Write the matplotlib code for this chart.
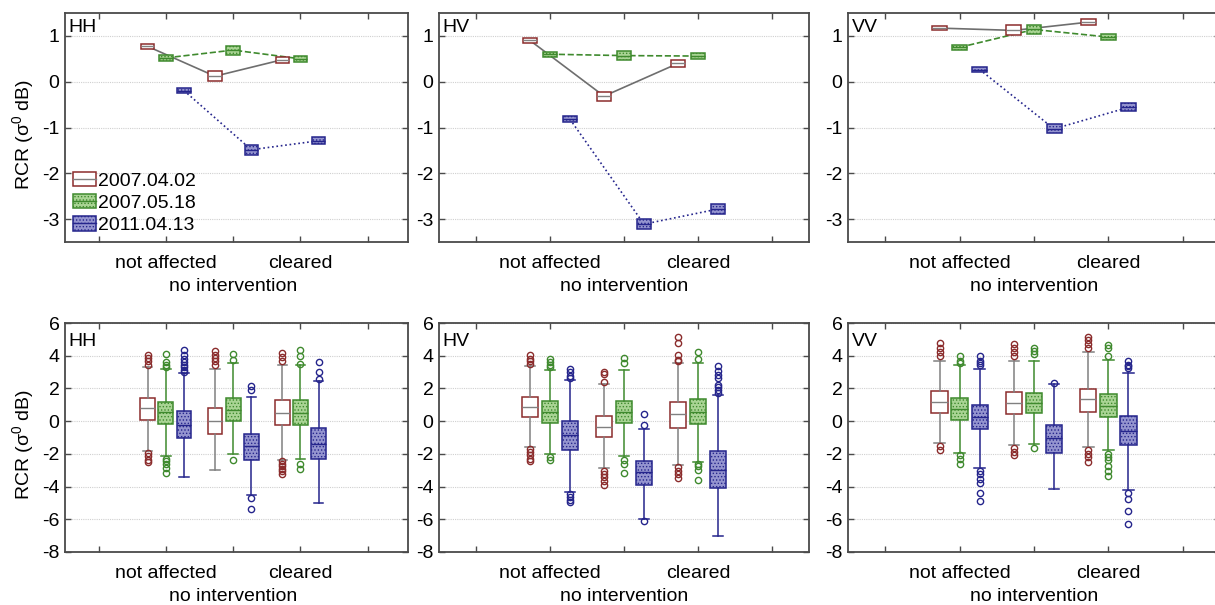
import matplotlib
matplotlib.use("Agg")
import matplotlib.pyplot as plt
from matplotlib.patches import Patch, Rectangle
from matplotlib.lines import Line2D

plt.rcParams['font.family'] = ['Liberation Sans', 'DejaVu Sans']
plt.rcParams['mathtext.fontset'] = 'custom'
plt.rcParams['mathtext.rm'] = 'Liberation Sans'
plt.rcParams['mathtext.it'] = 'Liberation Sans'
plt.rcParams['axes.unicode_minus'] = False
plt.rcParams['hatch.linewidth'] = 0.6

# ---------------- data ----------------
categories = ['not affected', 'no intervention', 'cleared']
series = ['2007.04.02', '2007.05.18', '2011.04.13']
pols = ['HH', 'HV', 'VV']

# top row: mean and half-height of the small boxes (rows = series, cols = categories)
mean_HH = [[0.77, 0.12, 0.48], [0.52, 0.69, 0.50], [-0.195, -1.485, -1.29]]
err_HH = [[0.055, 0.11, 0.07], [0.06, 0.10, 0.065], [0.06, 0.11, 0.08]]
mean_HV = [[0.90, -0.315, 0.40], [0.60, 0.57, 0.56], [-0.82, -3.11, -2.78]]
err_HV = [[0.045, 0.10, 0.07], [0.055, 0.10, 0.065], [0.065, 0.11, 0.10]]
mean_VV = [[1.17, 1.12, 1.30], [0.75, 1.14, 0.975], [0.265, -1.03, -0.56]]
err_VV = [[0.045, 0.11, 0.06], [0.05, 0.095, 0.06], [0.06, 0.10, 0.09]]

# bottom row: box plot statistics (rows = series, cols = categories)
q1_HH = [[0.06, -0.76, -0.25], [-0.18, 0.0, -0.25], [-1.03, -2.36, -2.30]]
med_HH = [[0.78, 0.02, 0.47], [0.57, 0.68, 0.47], [-0.25, -1.54, -1.42]]
q3_HH = [[1.40, 0.82, 1.29], [1.19, 1.40, 1.29], [0.62, -0.76, -0.39]]
lo_HH = [[-1.83, -3.0, -2.36], [-2.16, -2.03, -2.30], [-3.39, -4.52, -5.0]]
hi_HH = [[3.31, 3.2, 3.45], [3.18, 3.55, 3.45], [2.94, 1.46, 2.48]]
fl_HH = [[[4.07, 3.86, 3.66, 3.45, -1.95, -2.16, -2.36, -2.5],
          [4.27, 4.07, 3.86, 3.65, 3.41],
          [4.17, 3.92, 3.65, -2.46, -2.6, -2.75, -2.92, -3.06, -3.22]],
         [[4.13, 3.62, 3.45, 3.31, -2.3, -2.46, -2.65, -2.85, -3.16],
          [4.1, 3.76, -2.36],
          [4.33, 3.96, 3.49, -2.65, -2.92]],
         [[4.33, 4.07, 3.82, 3.62, 3.45, 3.28, 3.1, 2.98],
          [2.16, 1.91, -4.72, -5.4],
          [3.6, 3.0, 2.55]]]

q1_HV = [[0.23, -1.0, -0.39], [-0.1, -0.14, -0.2], [-1.75, -3.9, -4.09]]
med_HV = [[0.88, -0.35, 0.41], [0.57, 0.57, 0.57], [-0.86, -3.12, -2.98]]
q3_HV = [[1.5, 0.31, 1.19], [1.23, 1.25, 1.36], [0.0, -2.46, -1.83]]
lo_HV = [[-1.58, -2.87, -2.71], [-2.03, -2.14, -2.5], [-4.31, -6.0, -7.02]]
hi_HV = [[3.39, 2.26, 3.55], [3.14, 3.14, 3.55], [2.53, -0.51, 1.6]]
fl_HV = [[[4.02, 3.82, 3.65, 3.51, -1.68, -1.89, -2.09, -2.3, -2.45],
          [3.0, 2.9, 2.42, -3.02, -3.22, -3.43, -3.63, -3.9],
          [5.15, 4.78, 4.07, 3.76, 3.65, -2.81, -3.02, -3.22, -3.47]],
         [[3.82, 3.61, 3.41, 3.29, -2.2, -2.36],
          [3.86, 3.55, -2.4, -2.6, -3.16],
          [4.23, 3.8, -2.6, -2.75, -2.96, -3.57]],
         [[3.18, 2.98, 2.73, 2.63, -4.46, -4.66, -4.83, -4.97],
          [0.43, -0.25, -6.1],
          [3.39, 3.04, 2.83, 2.63, 2.22, 2.07, 1.91, 1.75]]]

q1_VV = [[0.51, 0.43, 0.53], [0.06, 0.47, 0.27], [-0.51, -1.93, -1.48]]
med_VV = [[1.19, 1.13, 1.36], [0.72, 1.09, 0.92], [0.27, -1.03, -0.62]]
q3_VV = [[1.85, 1.77, 1.97], [1.40, 1.75, 1.66], [0.99, -0.25, 0.31]]
lo_VV = [[-1.33, -1.48, -1.58], [-1.93, -1.38, -1.79], [-2.85, -4.15, -4.21]]
hi_VV = [[3.7, 3.7, 4.23], [3.41, 3.66, 3.76], [3.2, 2.25, 2.94]]
fl_VV = [[[4.78, 4.48, 4.21, 3.96, -1.52, -1.79],
          [4.74, 4.48, 4.23, 4.0, -1.64, -1.89, -2.09],
          [5.13, 4.95, 4.72, 4.48, -1.79, -1.99, -2.2, -2.5]],
         [[3.96, 3.7, 3.55, -2.1, -2.34, -2.61],
          [4.48, 4.31, 4.1, -1.64],
          [4.68, 4.48, 4.0, -1.99, -2.2, -2.4, -2.75, -3.02, -3.33]],
         [[3.96, 3.7, 3.55, 3.41, -3.02, -3.22, -3.53, -3.8, -4.39, -4.87],
          [2.32],
          [3.66, 3.45, 3.35, 3.24, -4.41, -4.76, -5.48, -6.3]]]

# ---------------- styles ----------------
edge_colors = ['#8b2c2c', '#3f8a2e', '#25258c']
face_colors = ['white', '#a9d494', '#9494cf']
hatches = [None, '.....', '.....']
whisker_colors = ['#808080', '#3f8a2e', '#25258c']
median_colors = ['#808080', '#3f8a2e', '#25258c']
line_styles = ['-', '--', ':']
line_colors = ['#6e6e6e', '#3f8a2e', '#25258c']
offsets = [-0.27, 0.0, 0.27]
cat_pos = [1, 2, 3]

top_means = {'HH': mean_HH, 'HV': mean_HV, 'VV': mean_VV}
top_errs = {'HH': err_HH, 'HV': err_HV, 'VV': err_VV}
bot = {'HH': (q1_HH, med_HH, q3_HH, lo_HH, hi_HH, fl_HH),
       'HV': (q1_HV, med_HV, q3_HV, lo_HV, hi_HV, fl_HV),
       'VV': (q1_VV, med_VV, q3_VV, lo_VV, hi_VV, fl_VV)}

W, H = 1215, 605
fig = plt.figure(figsize=(W / 100, H / 100), dpi=100)

lefts = [65, 439, 848]
widths = [343, 370, 372]
xlims = [(-0.5, 4.6), (-0.5, 4.5), (-0.5, 4.5)]
top_y = (13, 242)
bot_y = (323, 552)
spine_col = '#4a4a4a'
FS = 14
YLABEL = 'RCR (σ$^{0}$ dB)'


class BoxHandler:
    def __init__(self, mid_color):
        self.mid_color = mid_color

    def legend_artist(self, legend, orig_handle, fontsize, handlebox):
        x0, y0 = -handlebox.xdescent, -handlebox.ydescent
        w, h = handlebox.width, handlebox.height
        tr = handlebox.get_transform()
        rect = Rectangle((x0, y0), w, h, facecolor=orig_handle.get_facecolor(),
                         edgecolor=orig_handle.get_edgecolor(), hatch=orig_handle.get_hatch(),
                         linewidth=1.1, transform=tr)
        ln = Line2D([x0, x0 + w], [y0 + h / 2, y0 + h / 2], color=self.mid_color,
                    lw=1.0, transform=tr)
        handlebox.add_artist(rect)
        handlebox.add_artist(ln)
        return rect


def make_ax(i, ytop, ybot):
    ax = fig.add_axes([lefts[i] / W, 1 - ybot / H, widths[i] / W, (ybot - ytop) / H])
    for s in ax.spines.values():
        s.set_color(spine_col)
        s.set_linewidth(1.3)
    ax.set_xlim(*xlims[i])
    ax.xaxis.remove_overlapping_locs = False
    ax.set_xticks([0, 1, 2, 3, 4])
    ax.set_xticklabels(['', categories[0], '', categories[2], ''])
    ax.set_xticks([2], minor=True)
    ax.set_xticklabels([categories[1]], minor=True)
    ax.tick_params(axis='both', which='major', direction='in', length=4, width=1,
                   color=spine_col, top=True, right=True, labelsize=FS)
    ax.tick_params(axis='x', which='major', pad=9)
    ax.tick_params(axis='x', which='minor', length=0, pad=9 + 16.8, labelsize=FS)
    ax.tick_params(axis='y', pad=4)
    ax.yaxis.grid(True, color='#d0d0d0', linestyle=(0, (1, 1)), linewidth=0.8)
    ax.set_axisbelow(True)
    return ax


for i, pol in enumerate(pols):
    # ---------- top row ----------
    ax = make_ax(i, *top_y)
    ax.set_ylim(-3.5, 1.5)
    ax.set_yticks([-3, -2, -1, 0, 1])
    for s in range(3):
        xs = [c + offsets[s] for c in cat_pos]
        ms = top_means[pol][s]
        es = top_errs[pol][s]
        ax.plot(xs, ms, linestyle=line_styles[s], color=line_colors[s], lw=1.2, zorder=2)
        ax.bar(xs, [2 * e for e in es], bottom=[m - e for m, e in zip(ms, es)], width=0.2,
               facecolor=face_colors[s], edgecolor=edge_colors[s], hatch=hatches[s],
               linewidth=1.1, zorder=3)
        ax.hlines(ms, [x - 0.1 for x in xs], [x + 0.1 for x in xs],
                  color=median_colors[s], lw=1.0, zorder=4)
    ax.text(0.01, 0.975, pol, transform=ax.transAxes, ha='left', va='top', fontsize=FS)
    if i == 0:
        ax.set_ylabel(YLABEL, fontsize=FS)
        ax.yaxis.set_label_coords(-0.085, 0.47)
        handles = [Patch(facecolor=face_colors[s], edgecolor=edge_colors[s],
                         hatch=hatches[s]) for s in range(3)]
        hmap = {handles[s]: BoxHandler(median_colors[s]) for s in range(3)}
        ax.legend(handles, series, loc='lower left', frameon=False, fontsize=FS,
                  handler_map=hmap, handlelength=1.18, handleheight=0.77,
                  handletextpad=0.12, labelspacing=0.22, borderaxespad=0.3,
                  borderpad=0.1)

    # ---------- bottom row ----------
    ax = make_ax(i, *bot_y)
    ax.set_ylim(-8, 6)
    ax.set_yticks([-8, -6, -4, -2, 0, 2, 4, 6])
    q1, med, q3, lo, hi, fl = bot[pol]
    for s in range(3):
        stats = []
        for c in range(3):
            stats.append(dict(med=med[s][c], q1=q1[s][c], q3=q3[s][c],
                              whislo=lo[s][c], whishi=hi[s][c], fliers=fl[s][c]))
        ax.bxp(stats, positions=[c + offsets[s] for c in cat_pos], widths=0.22,
               capwidths=0.14, patch_artist=True, manage_ticks=False,
               boxprops=dict(facecolor=face_colors[s], edgecolor=edge_colors[s],
                             hatch=hatches[s], linewidth=1.1),
               whiskerprops=dict(color=whisker_colors[s], linewidth=1.1),
               capprops=dict(color=whisker_colors[s], linewidth=1.1),
               medianprops=dict(color=median_colors[s], linewidth=1.0),
               flierprops=dict(marker='o', markerfacecolor='none',
                               markeredgecolor=edge_colors[s], markersize=4.5,
                               markeredgewidth=1.0))
    ax.text(0.01, 0.955, pol, transform=ax.transAxes, ha='left', va='top', fontsize=FS)
    if i == 0:
        ax.set_ylabel(YLABEL, fontsize=FS)
        ax.yaxis.set_label_coords(-0.085, 0.47)

fig.savefig('out.png', dpi=100)
